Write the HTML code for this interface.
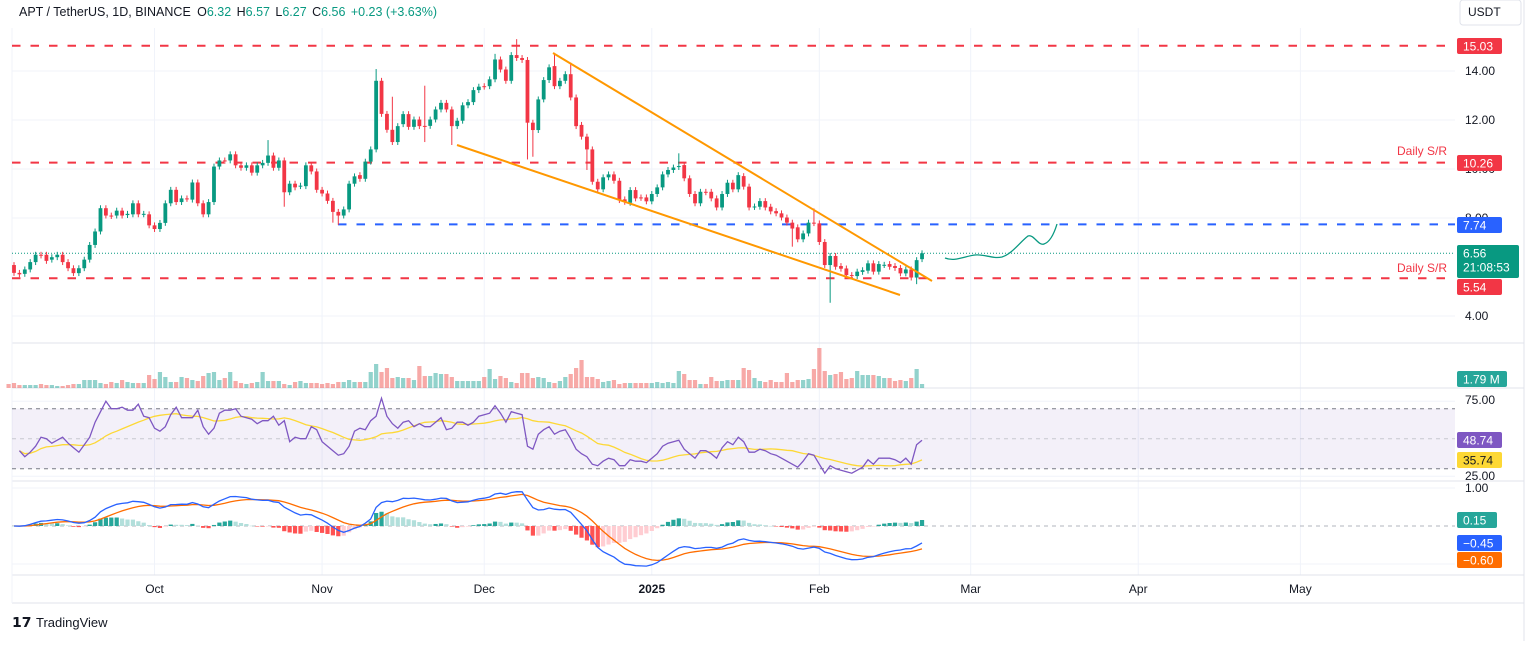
<!DOCTYPE html>
<html><head><meta charset="utf-8"><style>
html,body{margin:0;padding:0;background:#fff;}
body{width:1536px;height:641px;overflow:hidden;font-family:"Liberation Sans",sans-serif;}
svg text{font-family:"Liberation Sans",sans-serif;}
</style></head><body>
<svg id="chart" width="1536" height="641" xmlns="http://www.w3.org/2000/svg">
<rect x="0" y="0" width="1536" height="641" fill="#fff"/>
<g id="grid"></g>
<g id="levels"></g>
<g id="candles"></g>
<g id="vol"></g>
<g id="rsi"></g>
<g id="macd"></g>
<g id="axes"></g>
<text x="19" y="16" font-size="13" fill="#131722" textLength="418" lengthAdjust="spacingAndGlyphs">APT / TetherUS, 1D, BINANCE <tspan dx="3">O</tspan><tspan fill="#089981">6.32</tspan> <tspan dx="2">H</tspan><tspan fill="#089981">6.57</tspan> <tspan dx="2">L</tspan><tspan fill="#089981">6.27</tspan> <tspan dx="2">C</tspan><tspan fill="#089981">6.56</tspan> <tspan dx="2" fill="#089981">+0.23 (+3.63%)</tspan></text>
<g><text x="12" y="627" font-size="14" font-weight="bold" fill="#131722">𝟭𝟳</text><text x="36" y="627" font-size="13" fill="#131722">TradingView</text></g>
</svg>
<script>
const opens=[6.08,5.76,5.72,5.90,6.20,6.50,6.50,6.30,6.40,6.50,6.20,5.95,5.75,5.95,6.30,6.90,7.45,8.40,8.10,8.10,8.30,8.12,8.15,8.60,8.15,8.15,7.70,7.55,7.80,8.60,9.15,8.65,8.80,8.75,9.45,8.60,8.15,8.65,10.10,10.35,10.35,10.60,10.15,10.05,10.15,9.85,10.15,10.25,10.55,10.05,10.35,9.05,9.40,9.30,9.30,10.15,9.90,9.15,9.00,8.70,8.25,8.10,8.35,9.40,9.75,9.60,10.30,10.80,13.60,12.25,11.60,11.10,11.83,12.24,11.72,12.02,11.76,11.76,12.02,12.43,12.70,12.43,11.75,11.97,12.60,12.73,13.22,13.38,13.38,13.66,14.47,14.06,13.60,14.65,14.53,14.45,11.89,11.59,12.84,13.63,14.20,13.38,13.60,13.87,12.92,11.80,11.32,10.80,9.48,9.17,9.66,9.78,9.52,8.76,8.62,9.14,8.84,8.84,8.68,8.98,9.25,9.78,9.96,10.08,10.16,9.62,8.98,8.60,9.07,9.07,8.80,8.43,8.98,9.44,9.17,9.71,9.28,8.45,8.46,8.69,8.46,8.28,8.19,8.02,7.81,7.62,7.13,7.37,7.81,7.78,7.02,6.08,6.45,6.04,5.94,5.67,5.63,5.80,5.85,6.15,5.81,6.08,6.12,6.04,5.96,5.74,5.90,5.57,6.32];
const closes=[5.76,5.70,5.90,6.20,6.50,6.47,6.25,6.40,6.50,6.20,5.95,5.75,5.95,6.30,6.90,7.45,8.40,8.10,8.08,8.30,8.10,8.17,8.60,8.15,8.17,7.70,7.55,7.80,8.60,9.15,8.65,8.80,8.78,9.45,8.60,8.15,8.65,10.10,10.35,10.33,10.60,10.15,10.05,10.15,9.85,10.15,10.25,10.55,10.05,10.35,9.05,9.40,9.25,9.32,10.15,9.90,9.15,9.00,8.70,8.25,8.10,8.35,9.40,9.70,9.60,10.30,10.80,13.60,12.25,11.60,11.10,11.75,12.24,11.72,12.02,11.75,11.74,12.02,12.43,12.70,12.43,11.75,11.97,12.60,12.73,13.22,13.36,13.36,13.66,14.47,14.06,13.60,14.65,14.53,14.45,11.89,11.59,12.84,13.63,14.15,13.38,13.60,13.87,12.92,11.75,11.32,10.80,9.48,9.17,9.66,9.78,9.52,8.73,8.66,9.14,8.80,8.82,8.68,8.98,9.25,9.78,9.96,10.06,10.12,9.62,8.98,8.60,9.07,9.05,8.80,8.43,8.98,9.44,9.17,9.75,9.28,8.43,8.47,8.69,8.43,8.27,8.19,8.02,7.81,7.57,7.13,7.37,7.81,7.79,7.02,6.08,6.45,6.01,5.93,5.67,5.66,5.81,5.87,6.15,5.81,6.12,6.09,6.01,5.96,5.74,5.90,5.57,6.28,6.56];
const highOverride={47:11.18,67:14.08,70:12.95,76:13.4,89:14.7,93:15.3,100:14.74,103:14.34,123:10.64,148:8.39};
const lowOverride={50:8.46,59:7.81,60:7.72,76:11.1,81:10.98,95:10.39,96:10.5,106:9.96,144:6.83,151:4.54,167:5.3};
const volume=[4,5,3,3,3,3,4,3,3,2,2,3,4,4,8,8,8,5,4,6,5,8,6,5,5,5,13,9,16,11,6,6,11,10,8,7,12,15,16,8,10,16,7,5,4,5,6,16,7,7,7,4,3,6,7,5,5,5,4,5,4,6,6,8,6,6,6,16,24,16,20,10,11,10,10,8,22,12,12,15,14,14,11,7,7,7,7,7,11,19,9,12,10,6,5,15,15,10,11,10,6,5,7,11,14,20,28,11,11,9,6,7,8,4,5,5,5,5,5,5,6,5,6,5,17,14,8,8,4,4,11,7,7,8,8,8,20,18,10,7,6,8,6,6,15,6,8,8,9,19,40,17,13,14,16,9,10,17,13,13,13,12,10,10,7,8,7,10,19,4];
const rsiValues=[42,38,41,45,51,50,47,49,51,47,44,41,46,51,61,68,75,70,70,71,69,69,73,65,64,57,55,58,66,71,64,64,64,69,58,53,57,67,69,69,70,65,64,63,60,62,62,65,59,62,48,51,50,50,58,56,48,45,42,39,40,45,55,57,56,62,65,77,65,60,57,61,62,58,60,58,58,61,64,56,57,61,61,59,61,65,66,67,72,67,61,68,67,66,45,43,53,56,58,53,55,56,50,43,40,38,33,32,35,37,36,32,32,36,35,35,34,37,40,45,47,48,49,43,40,37,42,42,40,37,44,48,46,51,48,41,41,43,42,40,39,37,35,33,31,35,40,39,33,27,32,30,29,28,27,29,31,36,33,37,37,37,36,34,37,33,46,49];
const monthLabels=["Oct","Nov","Dec","2025","Feb","Mar","Apr","May"];
const monthDayIndex=[26,57,87,118,149,177,208,238];
const priceTicks=[14,12,10,8,4];
const levelPrices=[15.03,10.26,5.54];
const keyLevel=7.74;

const NS="http://www.w3.org/2000/svg";
function mk(tag,attrs,parent){const e=document.createElementNS(NS,tag);for(const k in attrs)e.setAttribute(k,attrs[k]);parent.appendChild(e);return e;}
const N=closes.length;
const X0=14, DX=5.405;
const xOf=i=>X0+i*DX;
const yP=p=>71+(14-p)*24.5;
const yR=r=>438.7-(r-50)*1.5;
const yM=m=>526-m*38;
const VOLBASE=388;

const grid=document.getElementById('grid');
priceTicks.forEach(t=>{const l=mk('line',{x1:12,x2:1455,y1:yP(t),y2:yP(t),stroke:'#f0f3fa','stroke-width':1},grid);});
monthDayIndex.forEach(d=>{const x=xOf(d);const l=mk('line',{x1:x,x2:x,y1:28,y2:575,stroke:'#f0f3fa','stroke-width':1},grid);});
[[343],[388],[481],[575]].forEach(([y])=>{const l=mk('line',{x1:12,x2:1524,y1:y,y2:y,stroke:'#e0e3eb','stroke-width':1},grid);});
mk('line',{x1:12,x2:1524,y1:603,y2:603,stroke:'#e0e3eb'},grid);
mk('line',{x1:12,x2:12,y1:28,y2:603,stroke:'#f0f3fa'},grid);
mk('line',{x1:1524,x2:1524,y1:0,y2:641,stroke:'#e0e3eb'},grid);
const rsiG=document.getElementById('rsi');
const band=mk('rect',{x:12,y:yR(70),width:1443,height:yR(30)-yR(70),fill:'#7e57c2','fill-opacity':0.09},rsiG);

[70,50,30].forEach(v=>{const l=mk('line',{x1:12,x2:1455,y1:yR(v),y2:yR(v),stroke:v==50?'#c8c8d0':'#787b86','stroke-dasharray':'4,4','stroke-width':1},rsiG);});
[75,25].forEach(v=>mk('line',{x1:12,x2:1455,y1:yR(v),y2:yR(v),stroke:'#f0f3fa'},rsiG));

const lv=document.getElementById('levels');
levelPrices.forEach(p=>{const l=mk('line',{x1:12,x2:1455,y1:yP(p),y2:yP(p),stroke:'#f23645','stroke-width':2,'stroke-dasharray':'8.5,10'},lv);});
const bl=mk('line',{x1:338,x2:1455,y1:yP(keyLevel),y2:yP(keyLevel),stroke:'#2962ff','stroke-width':2,'stroke-dasharray':'8.5,10'},lv);

const cl=mk('line',{x1:12,x2:1455,y1:yP(closes[N-1]),y2:yP(closes[N-1]),stroke:'#089981','stroke-width':1,'stroke-dasharray':'1,2'},lv);

[[1397,151,'Daily S/R'],[1397,268,'Daily S/R']].forEach(([x,y,t])=>{const e=mk('text',{x:x,y:y+4,'font-size':12,fill:'#f23645'},lv);e.textContent=t;});

const cg=document.getElementById('candles');
for(let i=0;i<N;i++){
  const o=opens[i],c=closes[i];const up=c>=o;const col=up?'#089981':'#f23645';
  const hi=highOverride[i]!==undefined?highOverride[i]:Math.max(o,c)+0.12;
  const lo=lowOverride[i]!==undefined?lowOverride[i]:Math.min(o,c)-0.12;
  const x=xOf(i);
  const g=mk('g',{},cg);
  
  
  mk('line',{x1:x,x2:x,y1:yP(hi),y2:yP(lo),stroke:col,'stroke-width':1},g);
  const t=yP(Math.max(o,c)),b=yP(Math.min(o,c));
  mk('rect',{x:x-1.9,y:t,width:3.8,height:Math.max(1,b-t),fill:col},g);
}
[[553,53,932,281],[457,145,900,295]].forEach(([a,b,c,d])=>{const l=mk('line',{x1:a,y1:b,x2:c,y2:d,stroke:'#ff9800','stroke-width':2},lv.parentNode);});
const sq=mk('path',{d:'M945,258 C955,262 965,256 975,255 C985,254 992,259 1002,257 C1012,254 1020,242 1028,236 C1034,234 1038,246 1044,244 C1050,242 1054,234 1057,224',fill:'none',stroke:'#089981','stroke-width':1.3},lv.parentNode);


const vg=document.getElementById('vol');
const vOff=N-volume.length;
volume.forEach((v,k)=>{const i=k+vOff;const up=closes[i]>=opens[i];const x=xOf(i);
  const r=mk('rect',{x:x-2.1,y:VOLBASE-v,width:4.2,height:v,fill:up?'#26a69a':'#ef5350','fill-opacity':0.5},vg);
  });

const rOff=N-rsiValues.length;
let pts=rsiValues.map((v,k)=>xOf(k+rOff).toFixed(1)+','+yR(v).toFixed(1)).join(' ');
const rma=rsiValues.map((v,k)=>{const s=rsiValues.slice(Math.max(0,k-13),k+1);return s.reduce((a,b)=>a+b,0)/s.length;});
const maL=mk('polyline',{points:rma.map((v,k)=>xOf(k+rOff).toFixed(1)+','+yR(v).toFixed(1)).join(' '),fill:'none',stroke:'#fdd835','stroke-width':1.3},rsiG);

const rl=mk('polyline',{points:pts,fill:'none',stroke:'#7e57c2','stroke-width':1.3},rsiG);


const mg=document.getElementById('macd');
function ema(arr,n){const k=2/(n+1);const out=[];arr.forEach((v,i)=>out.push(i?out[i-1]+k*(v-out[i-1]):v));return out;}
const e12=ema(closes,12),e26=ema(closes,26);
const macd=e12.map((v,i)=>v-e26[i]);const sig=ema(macd,9);const hist=macd.map((v,i)=>v-sig[i]);
mk('line',{x1:12,x2:1455,y1:yM(0),y2:yM(0),stroke:'#b2b5be','stroke-dasharray':'4,4'},mg);
[1,-1].forEach(v=>mk('line',{x1:12,x2:1455,y1:yM(v),y2:yM(v),stroke:'#f0f3fa'},mg));
hist.forEach((h,i)=>{const p=i?hist[i-1]:0;const col=h>=0?(h>p?'#26a69a':'#b2dfdb'):(h<p?'#ff5252':'#ffcdd2');
  const y1=Math.min(yM(h),yM(0)),hh=Math.abs(yM(h)-yM(0));
  const r=mk('rect',{x:xOf(i)-2.1,y:y1,width:4.2,height:Math.max(0.5,hh),fill:col},mg);
  });
const sl=mk('polyline',{points:sig.map((v,i)=>xOf(i).toFixed(1)+','+yM(v).toFixed(1)).join(' '),fill:'none',stroke:'#ff6d00','stroke-width':1.3},mg);

const ml=mk('polyline',{points:macd.map((v,i)=>xOf(i).toFixed(1)+','+yM(v).toFixed(1)).join(' '),fill:'none',stroke:'#2962ff','stroke-width':1.3},mg);


const ax=document.getElementById('axes');
function txt(x,y,s,opt){const e=mk('text',Object.assign({x:x,y:y,'font-size':12,fill:'#131722'},opt||{}),ax);e.textContent=s;return e;}
priceTicks.forEach(t=>{const e=txt(1465,yP(t)+4,t.toFixed(2));});
[[75,400],[25,476]].forEach(([v,y])=>{const e=txt(1465,y+4,v.toFixed(2));});
{const e=txt(1465,492,'1.00');}
monthLabels.forEach((m,k)=>{const e=txt(xOf(monthDayIndex[k]),593,m,{'text-anchor':'middle','font-weight':m=='2025'?'bold':'normal'});});
function box(y1,h,bg,lines,fg,w,name){const g=mk('g',{},ax);
  mk('rect',{x:1457,y:y1,width:w,height:h,rx:2,fill:bg},g);
  lines.forEach((s,k)=>{const e=mk('text',{x:1463,y:y1+12.5+k*14,'font-size':12,fill:fg},g);e.textContent=s;});}
box(38,16,'#f23645',['15.03'],'#fff',45,'level-label-15-03');
box(155,16,'#f23645',['10.26'],'#fff',45,'level-label-10-26');
box(217,16,'#2962ff',['7.74'],'#fff',45,'level-label-7-74');
box(245,33,'#089981',[closes[N-1].toFixed(2),'21:08:53'],'#fff',62,'last-price-label');
box(279,16,'#f23645',['5.54'],'#fff',45,'level-label-5-54');
box(371,16,'#26a69a',['1.79 M'],'#fff',50,'volume-label');
box(432,16,'#7e57c2',['48.74'],'#fff',45,'rsi-value-label');
box(452,16,'#fdd835',['35.74'],'#131722',45,'rsi-ma-value-label');
box(512,16,'#26a69a',['0.15'],'#fff',40,'macd-hist-label');
box(535,16,'#2962ff',['\u22120.45'],'#fff',45,'macd-value-label');
box(552,16,'#ff6d00',['\u22120.60'],'#fff',45,'macd-signal-label');
const ub=mk('rect',{x:1460,y:0,width:61,height:25,rx:3,fill:'#fff',stroke:'#e0e3eb'},ax);

const ut=txt(1468,16,'USDT');
</script>
</body></html>
